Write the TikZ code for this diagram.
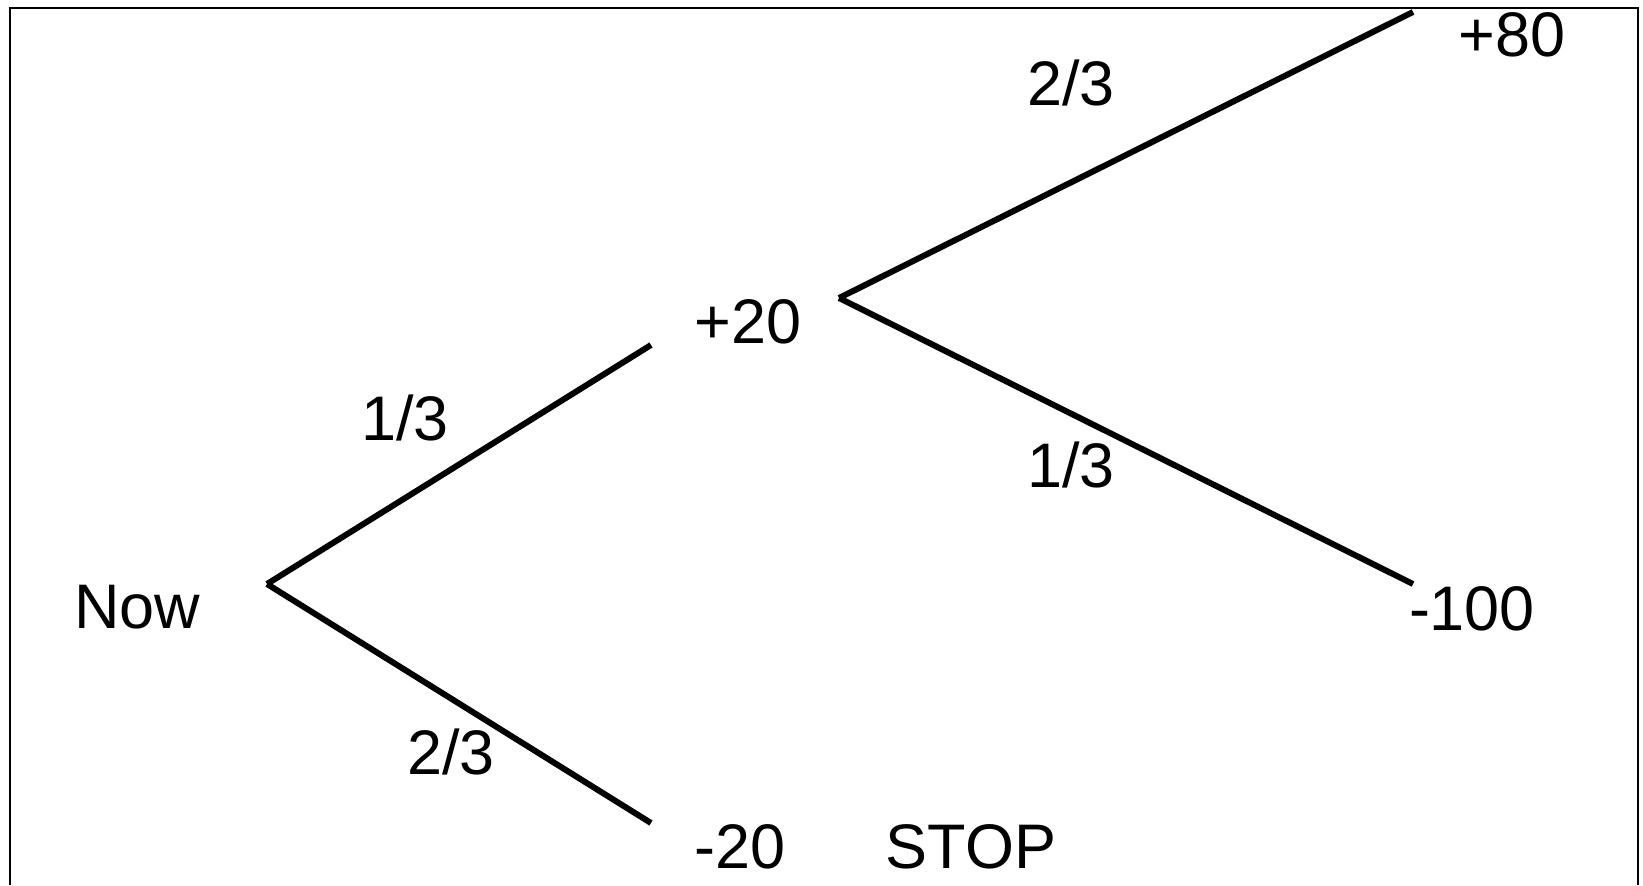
\documentclass[tikz,border=0pt]{standalone}
\usepackage{fontspec}
\setmainfont{Liberation Sans}
\begin{document}
\begin{tikzpicture}[x=0.01cm,y=-0.01cm,
  branch/.style={line width=1.7pt,black},
  lbl/.style={inner sep=0pt,anchor=base,font=\fontsize{17.9}{20}\selectfont}]
\useasboundingbox (0,0) rectangle (1643,885);
\draw[line width=0.4pt] (10,885) -- (10,8) -- (1638,8) -- (1638,885);

%(x,y) in pixels, y downwards
\coordinate (now) at (267,584);
\coordinate (up) at (651,345);
\coordinate (down) at (651,823);
\coordinate (mid) at (839,298);
\coordinate (win) at (1413,12);
\coordinate (lose) at (1413,584);

\draw[branch] (now) -- (up);
\draw[branch] (now) -- (down);
\draw[branch] (mid) -- (win);
\draw[branch] (mid) -- (lose);

\node[lbl] (tnow) at (137,628) {Now};
\node[lbl] (tplus) at (748,343) {+20};
\node[lbl] (tminus) at (740,868) {-20};
\node[lbl] (tstop) at (971,868) {STOP};
\node[lbl] (twin) at (1512,57) {+80};
\node[lbl] (tlose) at (1472,630) {-100};
\node[lbl] (pup) at (405,440) {1/3};
\node[lbl] (pdown) at (451,774) {2/3};
\node[lbl] (pwin) at (1071,106) {2/3};
\node[lbl] (plose) at (1071,487) {1/3};
\end{tikzpicture}
\end{document}
